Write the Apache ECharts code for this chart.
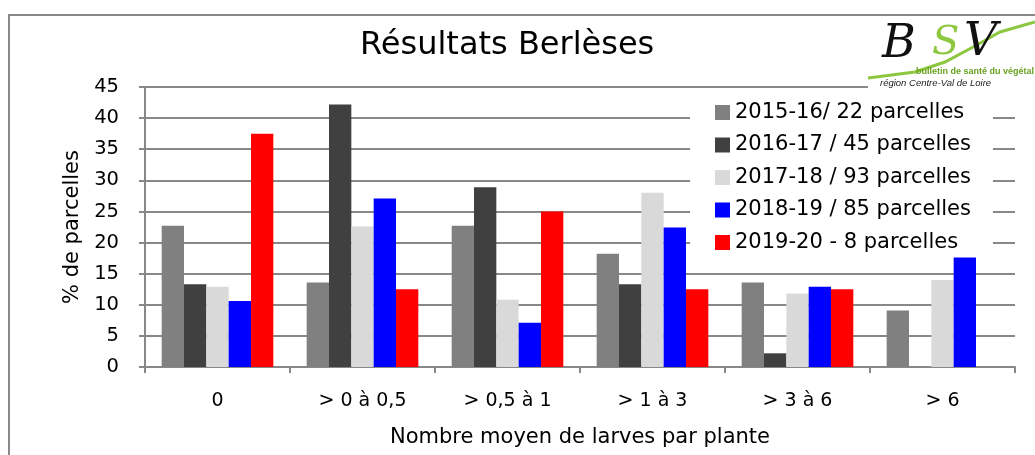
<!DOCTYPE html>
<html><head><meta charset="utf-8">
<script src="https://cdn.jsdelivr.net/npm/echarts@6/dist/echarts.min.js"></script>
<style>html,body{margin:0;padding:0;background:#fff;overflow:hidden}#c{width:1035px;height:455px}</style>
</head><body><div id="c"></div>
<script>
const categories = ['0', '> 0 à 0,5', '> 0,5 à 1', '> 1 à 3', '> 3 à 6', '> 6'];
const seriesNames = ['2015-16/ 22 parcelles', '2016-17 / 45 parcelles', '2017-18 / 93 parcelles', '2018-19 / 85 parcelles', '2019-20 - 8 parcelles'];
const s2015 = [22.7, 13.6, 22.7, 18.2, 13.6, 9.1];
const s2016 = [13.3, 42.2, 28.9, 13.3, 2.2, 0];
const s2017 = [12.9, 22.6, 10.8, 28.0, 11.8, 14.0];
const s2018 = [10.6, 27.1, 7.1, 22.4, 12.9, 17.6];
const s2019 = [37.5, 12.5, 25.0, 12.5, 12.5, 0];
const yTicks = {min: 0, max: 45, interval: 5};
const colors = ['#808080', '#404040', '#d9d9d9', '#0000ff', '#ff0000'];
const FONT = 'DejaVu Sans';

const data = [s2015, s2016, s2017, s2018, s2019];
const chart = echarts.init(document.getElementById('c'), null, {width: 1035, height: 455});
chart.setOption({
  animation: false,
  textStyle: {fontFamily: FONT},
  title: {text: 'Résultats Berlèses', left: 355, top: 25,
    textStyle: {fontFamily: FONT, fontSize: 32, fontWeight: 'normal', color: '#000'}},
  grid: {left: 145, width: 870, top: 87, height: 280},
  legend: {
    orient: 'vertical', left: 690, top: 96,
    padding: [6, 22, 3, 25],
    backgroundColor: '#fff',
    itemWidth: 15, itemHeight: 15, itemGap: 11.5,
    icon: 'rect',
    textStyle: {fontFamily: FONT, fontSize: 21, color: '#000', lineHeight: 20},
    data: seriesNames
  },
  xAxis: {
    type: 'category', data: categories,
    name: 'Nombre moyen de larves par plante', nameLocation: 'middle', nameGap: 60,
    nameTextStyle: {fontFamily: FONT, fontSize: 21, color: '#000'},
    axisLine: {lineStyle: {color: '#888', width: 2}},
    axisTick: {show: true, length: 6, lineStyle: {color: '#888', width: 2}},
    axisLabel: {fontFamily: FONT, fontSize: 19, color: '#000', margin: 25}
  },
  yAxis: {
    type: 'value', min: yTicks.min, max: yTicks.max, interval: yTicks.interval,
    name: '% de parcelles', nameLocation: 'middle', nameGap: 57, nameRotate: 90,
    nameTextStyle: {fontFamily: FONT, fontSize: 21, color: '#000'},
    axisLine: {show: true, lineStyle: {color: '#888', width: 2}},
    axisTick: {show: true, length: 6, lineStyle: {color: '#888', width: 2}},
    axisLabel: {fontFamily: FONT, fontSize: 19.5, color: '#000', margin: 26},
    splitLine: {lineStyle: {color: '#888', width: 2}}
  },
  series: seriesNames.map((n, i) => ({
    name: n, type: 'bar', data: data[i],
    barGap: '0%', barCategoryGap: '23%',
    itemStyle: {color: colors[i]}
  })),
  graphic: [
    {type: 'rect', shape: {x: 9, y: 15, width: 1040, height: 460}, style: {fill: 'none', stroke: '#888', lineWidth: 2}, z: 100},
    {type: 'rect', shape: {x: 868, y: 18, width: 167, height: 70}, style: {fill: '#fff'}, z: 101},
    {type: 'polyline', shape: {points: [[868, 78], [915, 72], [945, 62], [975, 46], [1000, 32], [1035, 22]]}, style: {stroke: '#8dc63f', lineWidth: 3, fill: 'none'}, z: 102},
    {type: 'text', left: 882, top: 22, style: {text: 'B', font: 'italic 46px "DejaVu Serif"', fill: '#111'}, z: 103},
    {type: 'text', left: 932, top: 24, style: {text: 'S', font: 'italic 40px "DejaVu Serif"', fill: '#8dc63f'}, z: 103},
    {type: 'text', left: 964, top: 20, style: {text: 'V', font: 'italic 46px "DejaVu Serif"', fill: '#111'}, z: 103},
    {type: 'text', left: 916, top: 67, style: {text: 'bulletin de santé du végétal', font: 'bold 9px "Liberation Sans"', fill: '#6aa121'}, z: 103},
    {type: 'text', left: 880, top: 78, style: {text: 'région Centre-Val de Loire', font: 'italic 9.5px "Liberation Sans"', fill: '#222'}, z: 103}
  ]
});
</script></body></html>
